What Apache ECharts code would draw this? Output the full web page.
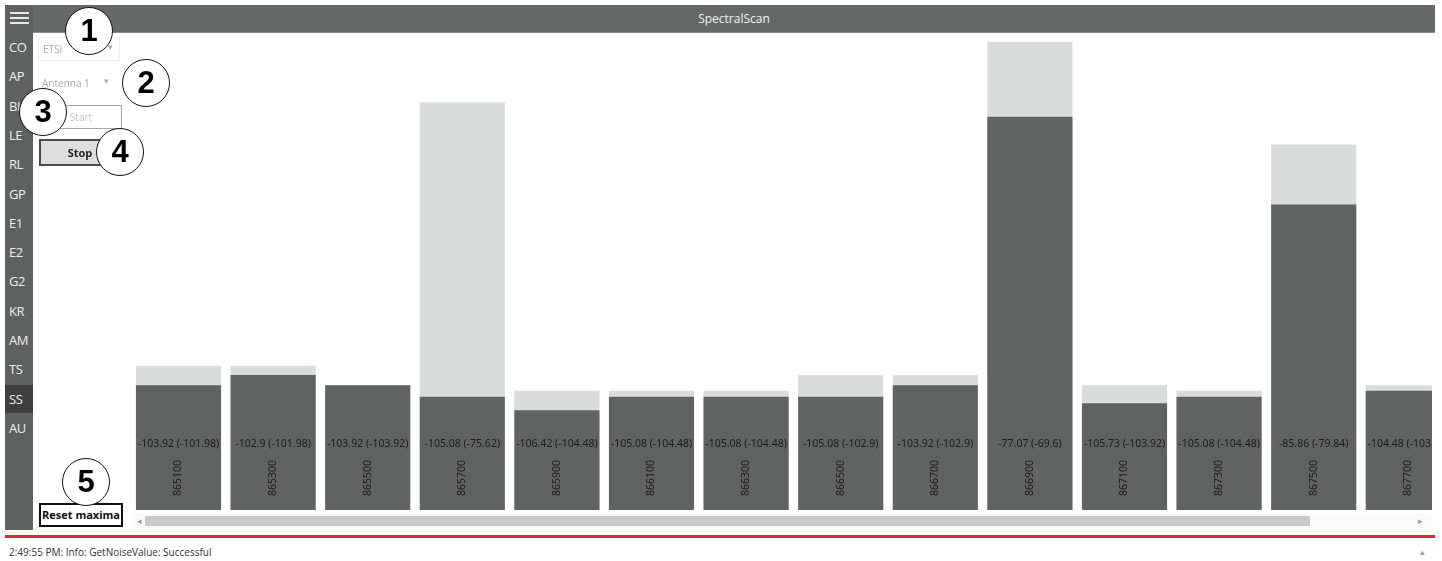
<!DOCTYPE html>
<html>
<head>
<meta charset="utf-8">
<script src="https://cdn.jsdelivr.net/npm/echarts@6/dist/echarts.min.js"></script>
<style>
  html, body { margin:0; padding:0; background:#fff; width:1442px; height:561px; overflow:hidden; font-family:"Open Sans","Noto Sans",sans-serif; }
  .abs { position:absolute; }
  #sidebar { left:5px; top:5px; width:28px; height:525px; background:#5e6161; }
  #topbar { left:33px; top:5px; width:1402px; height:28px; background:#656968; border-bottom:1px solid #8a8e8d; box-sizing:border-box; }
  #title { left:33px; top:5px; width:1402px; height:28px; line-height:28px; text-align:center; color:#f2f2f2; font-size:12px; }
  .nav { left:5px; width:28px; height:28px; line-height:28px; color:#eeeeee; font-size:13px; padding-left:4px; box-sizing:border-box; letter-spacing:-0.5px; }
  .nav.sel { background:#3d403f; }
  .ham { left:10px; width:19px; height:2px; background:#e8e8e8; }
  #chart { left:33px; top:33px; width:1399px; height:480px; }
  .dd { color:#a9a9a9; font-size:10px; }
  .btn { box-sizing:border-box; text-align:center; font-size:11px; }
  .circ { width:48px; height:48px; border:1.5px solid #111; border-radius:50%; background:#fff; box-sizing:border-box; text-align:center; line-height:46px; font-family:"Liberation Sans",Arial,sans-serif; font-weight:bold; font-size:31px; color:#000; }
  #red { left:5px; top:535px; width:1430px; height:3px; background:#e02a2a; }
  #status { left:9px; top:545px; font-size:10px; color:#333; }
</style>
</head>
<body>
<div id="sidebar" class="abs"></div>
<div id="topbar" class="abs"></div>
<div id="title" class="abs">SpectralScan</div>
<div class="abs ham" style="top:12px"></div>
<div class="abs ham" style="top:17px"></div>
<div class="abs ham" style="top:22px"></div>
<div id="navlist"></div>
<div id="chart" class="abs"></div>

<div class="abs" style="left:38px;top:37px;width:82px;height:24px;border:1px solid #eeeeee;box-sizing:border-box;"></div>
<div class="abs dd" style="left:43px;top:42px;">ETSI</div>
<div class="abs circ" style="left:65px;top:7px;">1</div>
<div class="abs dd" style="left:108px;top:40px;font-size:9px;">▾</div>
<div class="abs dd" style="left:42px;top:76px;">Antenna 1</div>
<div class="abs dd" style="left:104px;top:74px;font-size:9px;">▾</div>
<div class="abs btn" style="left:40px;top:105px;width:82px;height:24px;border:1px solid #a8a8a8;line-height:22px;color:#c4c4c4;font-size:10px;">Start</div>
<div class="abs btn" style="left:39px;top:139px;width:82px;height:27px;border:2px solid #4a4a4a;background:#dedede;line-height:23px;font-weight:bold;color:#222;">Stop</div>
<div class="abs btn" style="left:39px;top:503px;width:84px;height:24px;border:2px solid #111;background:#fff;line-height:20px;font-weight:bold;color:#111;">Reset maxima</div>

<div class="abs circ" style="left:122px;top:59px;">2</div>
<div class="abs circ" style="left:19px;top:88px;">3</div>
<div class="abs circ" style="left:96px;top:128px;">4</div>
<div class="abs circ" style="left:62px;top:458px;">5</div>

<div class="abs" style="left:133px;top:514px;width:1300px;height:14px;background:#fafafa;"></div>
<div class="abs" style="left:145px;top:516px;width:1165px;height:10px;background:#c9c9c9;"></div>
<div class="abs" style="left:137px;top:514px;font-size:9px;color:#9a9a9a;">◂</div>
<div class="abs" style="left:1418px;top:514px;font-size:9px;color:#9a9a9a;">▸</div>
<div id="red" class="abs"></div>
<div id="status" class="abs">2:49:55 PM: Info: GetNoiseValue: Successful</div>
<div class="abs" style="left:1420px;top:545px;font-size:9px;color:#9a9a9a;">▴</div>

<script>
// ---- data ----
const navItems = ['CO','AP','BL','LE','RL','GP','E1','E2','G2','KR','AM','TS','SS','AU'];
const selectedNav = 'SS';
const frequencies = ['865100','865300','865500','865700','865900','866100','866300','866500','866700','866900','867100','867300','867500','867700'];
const currentDbm = [-103.92,-102.9,-103.92,-105.08,-106.42,-105.08,-105.08,-105.08,-103.92,-77.07,-105.73,-105.08,-85.86,-104.48];
const maxDbm     = [-101.98,-101.98,-103.92,-75.62,-104.48,-104.48,-104.48,-102.9,-102.9,-69.6,-103.92,-104.48,-79.84,-103.92];
const yMin = -116.4, yMax = -69.4;

// ---- sidebar ----
const nl = document.getElementById('navlist');
navItems.forEach((t, i) => {
  const d = document.createElement('div');
  d.className = 'abs nav' + (t === selectedNav ? ' sel' : '');
  d.style.top = (33 + i * 29.3) + 'px';
  d.textContent = t;
  nl.appendChild(d);
});

// ---- chart ----
const LIGHT = '#d9dcdc', DARK = '#606363';
const chart = echarts.init(document.getElementById('chart'), null, {renderer:'canvas'});
chart.setOption({
  animation: false,
  grid: { left: 98.2, top: 7, height: 470, width: 94.6 * frequencies.length, outerBoundsMode: 'none' },
  xAxis: { type: 'category', data: frequencies, show: false },
  yAxis: { type: 'value', min: yMin, max: yMax, show: false },
  series: [{
    type: 'custom',
    data: frequencies.map((f, i) => [f, currentDbm[i], maxDbm[i]]),
    encode: { x: 0, y: [1, 2] },
    renderItem: function (params, api) {
      const idx = params.dataIndex;
      const cur = api.value(1), mx = api.value(2);
      const base = api.coord([idx, yMin]);
      const pMax = api.coord([idx, mx]);
      const pCur = api.coord([idx, cur]);
      const w = api.size([1, 0])[0] * 0.9;
      const x = base[0] - w / 2;
      return { type: 'group', children: [
        { type: 'rect', shape: { x: x, y: pMax[1], width: w, height: base[1] - pMax[1] }, style: { fill: LIGHT } },
        { type: 'rect', shape: { x: x, y: pCur[1], width: w, height: base[1] - pCur[1] }, style: { fill: DARK } },
        { type: 'text', x: base[0], y: base[1] - 66, style: { text: currentDbm[idx] + ' (' + maxDbm[idx] + ')', align: 'center', verticalAlign: 'middle', font: '10.5px "Noto Sans"', fill: '#1b1b1b' } },
        { type: 'text', x: base[0], y: base[1] - 32, rotation: Math.PI / 2, style: { text: frequencies[idx], align: 'center', verticalAlign: 'middle', font: '10.5px "Noto Sans"', fill: '#1b1b1b' } }
      ]};
    }
  }]
});
</script>
</body>
</html>
